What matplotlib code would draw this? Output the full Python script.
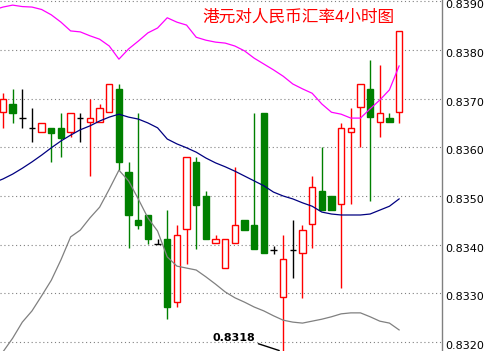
import matplotlib
matplotlib.use("Agg")
import matplotlib.pyplot as plt
from matplotlib.patches import Rectangle
from matplotlib.transforms import ScaledTranslation

# 4小时K线 (开/高/低/收)
OPEN = [0.83672, 0.83689, 0.83660, 0.83640, 0.83631, 0.83640, 0.83640, 0.83631, 0.83660, 0.83652,
        0.83652, 0.83672, 0.83720, 0.83549, 0.83451, 0.83461, 0.83401, 0.83412, 0.83282, 0.83432,
        0.83570, 0.83500, 0.83404, 0.83352, 0.83404, 0.83451, 0.83440, 0.83670, 0.83389, 0.83293,
        0.83389, 0.83383, 0.83442, 0.83510, 0.83500, 0.83484, 0.83631, 0.83683, 0.83720, 0.83652,
        0.83660, 0.83672]
HIGH = [0.83711, 0.83720, 0.83720, 0.83681, 0.83650, 0.83640, 0.83670, 0.83670, 0.83670, 0.83699,
        0.83689, 0.83730, 0.83730, 0.83570, 0.83670, 0.83461, 0.83412, 0.83471, 0.83440, 0.83580,
        0.83580, 0.83510, 0.83420, 0.83412, 0.83560, 0.83451, 0.83670, 0.83670, 0.83397, 0.83420,
        0.83451, 0.83440, 0.83541, 0.83601, 0.83500, 0.83650, 0.83681, 0.83730, 0.83779, 0.83769,
        0.83670, 0.83839]
LOW = [0.83640, 0.83650, 0.83640, 0.83611, 0.83631, 0.83570, 0.83580, 0.83621, 0.83611, 0.83541,
       0.83652, 0.83672, 0.83553, 0.83393, 0.83432, 0.83401, 0.83401, 0.83247, 0.83272, 0.83360,
       0.83391, 0.83412, 0.83404, 0.83352, 0.83404, 0.83430, 0.83391, 0.83383, 0.83381, 0.83180,
       0.83332, 0.83291, 0.83393, 0.83471, 0.83471, 0.83311, 0.83484, 0.83601, 0.83490, 0.83621,
       0.83652, 0.83650]
CLOSE = [0.83699, 0.83670, 0.83660, 0.83640, 0.83650, 0.83629, 0.83619, 0.83670, 0.83660, 0.83660,
         0.83681, 0.83730, 0.83570, 0.83461, 0.83440, 0.83412, 0.83401, 0.83272, 0.83420, 0.83580,
         0.83482, 0.83412, 0.83412, 0.83412, 0.83440, 0.83430, 0.83391, 0.83383, 0.83389, 0.83371,
         0.83389, 0.83430, 0.83518, 0.83471, 0.83471, 0.83640, 0.83640, 0.83730, 0.83662, 0.83670,
         0.83652, 0.83839]

# 布林线 (上轨/中轨/下轨)，第一个点落在图左边界外
UPPER = [0.83882, 0.83888, 0.83892, 0.83889, 0.83888, 0.83883, 0.83872, 0.83857, 0.83839, 0.83837,
         0.83829, 0.83822, 0.83808, 0.83781, 0.83802, 0.83818, 0.83835, 0.83845, 0.83866, 0.83857,
         0.83851, 0.83826, 0.83820, 0.83816, 0.83814, 0.83808, 0.83798, 0.83783, 0.83771, 0.83759,
         0.83746, 0.83730, 0.83720, 0.83711, 0.83689, 0.83672, 0.83668, 0.83660, 0.83660, 0.83679,
         0.83697, 0.83718, 0.83767]
MID = [0.83527, 0.83535, 0.83545, 0.83557, 0.83570, 0.83584, 0.83599, 0.83613, 0.83625, 0.83636,
       0.83644, 0.83654, 0.83662, 0.83668, 0.83662, 0.83658, 0.83650, 0.83640, 0.83617, 0.83607,
       0.83599, 0.83590, 0.83578, 0.83568, 0.83560, 0.83551, 0.83541, 0.83531, 0.83521, 0.83508,
       0.83500, 0.83494, 0.83486, 0.83479, 0.83467, 0.83463, 0.83461, 0.83461, 0.83461, 0.83463,
       0.83471, 0.83479, 0.83494]
LOWER = [0.83147, 0.83180, 0.83208, 0.83241, 0.83264, 0.83295, 0.83327, 0.83369, 0.83416, 0.83430,
         0.83455, 0.83477, 0.83514, 0.83553, 0.83531, 0.83494, 0.83455, 0.83428, 0.83375, 0.83356,
         0.83352, 0.83348, 0.83334, 0.83319, 0.83303, 0.83291, 0.83282, 0.83272, 0.83264, 0.83254,
         0.83245, 0.83241, 0.83239, 0.83243, 0.83247, 0.83252, 0.83258, 0.83260, 0.83260, 0.83252,
         0.83243, 0.83239, 0.83225]

YTICKS = [0.8320, 0.8330, 0.8340, 0.8350, 0.8360, 0.8370, 0.8380, 0.8390]
TITLE = "港元对人民币汇率4小时图"
LOW_MARK = 0.8318
LOW_IDX = 29

fig = plt.figure(figsize=(4.85, 3.51), dpi=100)
ax = fig.add_axes([0, 0, 442 / 485, 1])
ax.set_xlim(-0.31, 45.44)
ax.set_ylim(0.831817, 0.839025)

W = 0.66
for i, (o, h, l, c) in enumerate(zip(OPEN, HIGH, LOW, CLOSE)):
    if c > o:
        col = "#ff0000"
        ax.vlines(i, l, h, color=col, lw=1.0, zorder=2)
        ax.add_patch(Rectangle((i - W / 2, o), W, c - o, facecolor="white",
                               edgecolor=col, lw=1.0, zorder=3))
    elif c < o:
        col = "#008000"
        ax.vlines(i, l, h, color=col, lw=1.0, zorder=2)
        ax.add_patch(Rectangle((i - W / 2, c), W, o - c, facecolor=col,
                               edgecolor=col, lw=1.0, zorder=3))
    else:
        ax.vlines(i, l, h, color="black", lw=1.0, zorder=2)
        ax.hlines(o, i - W / 2, i + W / 2, color="black", lw=1.0, zorder=3)

line_x = list(range(-1, len(OPEN)))
ax.plot(line_x, UPPER, color="#ff00ff", lw=0.9, zorder=4)
ax.plot(line_x, MID, color="#000080", lw=0.9, zorder=4)
ax.plot(line_x, LOWER, color="#808080", lw=0.9, zorder=4)

ax.set_yticks(YTICKS)
ax.set_yticklabels([f"{v:.4f}" for v in YTICKS])
ax.set_xticks([])
ax.yaxis.tick_right()
ax.tick_params(axis="y", length=0, pad=2, labelsize=8, labelcolor="black")
off = ScaledTranslation(0, -3 / 100, fig.dpi_scale_trans)
for lab in ax.get_yticklabels():
    lab.set_transform(lab.get_transform() + off)
ax.grid(axis="y", color="#808080", linestyle=(0, (1, 2.5)), lw=0.8)
ax.set_axisbelow(True)
for s in ["left", "top", "bottom"]:
    ax.spines[s].set_visible(False)
ax.spines["right"].set_color("#808080")
ax.spines["right"].set_linewidth(1.0)

fig.text(298 / 485, 1 - 17 / 351, TITLE, color="#ff0000", fontsize=12,
         family=["Noto Sans CJK SC", "DejaVu Sans"], ha="center", va="center")

ax.annotate(f"{LOW_MARK:.4f}", xy=(LOW_IDX, LOW_MARK), xytext=(-49, 14),
            textcoords="offset pixels", ha="center", va="center", fontsize=8,
            fontweight="bold", color="black", annotation_clip=False,
            arrowprops=dict(arrowstyle="-", color="black", lw=1.0,
                            relpos=(1, 0), shrinkA=0, shrinkB=3))

fig.savefig("out.png", dpi=100, facecolor="white")
